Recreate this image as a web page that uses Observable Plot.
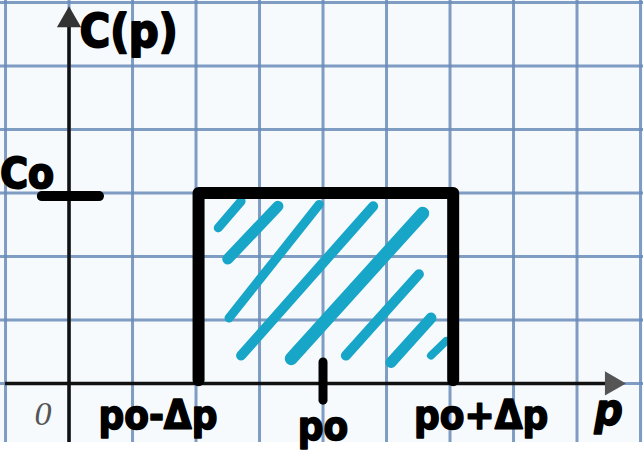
<!DOCTYPE html>
<html>
<head>
<meta charset="utf-8">
<script src="https://cdn.jsdelivr.net/npm/d3@7"></script>
<script src="https://cdn.jsdelivr.net/npm/@observablehq/plot@0.6"></script>
<style>
  body { margin: 0; background: white; }
  #chart svg { display: block; }
</style>
</head>
<body>
<div id="chart"></div>
<script>
// momentum distribution C(p): flat at C0 between p0-Δp and p0+Δp
const p0 = 4;
const dp = 2;
const c0 = 3;

// grid paper lines (one unit per square)
const gridP = [-1, 0, 1, 2, 3, 4, 5, 6, 7, 8, 9];
const gridC = [0, 1, 2, 3, 4, 5, 6];
const gridBottom = -0.93;

// the box outline
const boxP = [p0 - dp + 0.04, p0 - dp + 0.04, p0 + dp + 0.05, p0 + dp + 0.05];
const boxC = [0.05, c0, c0, 0.05];

// hand drawn hatch strokes inside the box (start / end)
const hatchP1 = [2.35, 2.5, 2.52, 2.71, 3.5, 4.36, 5.07, 5.7];
const hatchC1 = [2.45, 1.96, 1.03, 0.44, 0.39, 0.44, 0.33, 0.44];
const hatchP2 = [2.71, 3.29, 3.94, 4.79, 5.57, 5.51, 5.7, 5.94];
const hatchC2 = [2.87, 2.79, 2.82, 2.79, 2.68, 1.72, 1.03, 0.67];
const hatchW = [9, 11, 9, 10, 13, 10, 11, 8];

// labels
const tickLabels = ["po-Δp", "po", "po+Δp"];
const tickLabelP = [p0 - dp - 0.6, p0, p0 + dp + 0.49];
const tickLabelC = [-0.71, -0.89, -0.71];

const hatch = hatchP1.map((p, i) => ({
  x1: p, y1: hatchC1[i], x2: hatchP2[i], y2: hatchC2[i], w: hatchW[i]
}));
const box = boxP.map((p, i) => ({p, c: boxC[i]}));
const ticks = tickLabels.map((t, i) => ({t, p: tickLabelP[i], c: tickLabelC[i]}));

const xDomain = [-1.079, 9.047];
const yDomain = [-1.307, 6.03];
const ink = "black";
const hand = "'DejaVu Sans Condensed', 'DejaVu Sans', sans-serif";

const chart = Plot.plot({
  width: 643,
  height: 466,
  margin: 0,
  x: {domain: xDomain, axis: null},
  y: {domain: yDomain, axis: null},
  style: {background: "white"},
  marks: [
    // paper
    Plot.rect([0], {x1: xDomain[0], x2: xDomain[1], y1: gridBottom, y2: yDomain[1], fill: "#f6fafd"}),
    Plot.ruleX(gridP, {y1: gridBottom, y2: yDomain[1], stroke: "#6a8cb8", strokeWidth: 3, strokeOpacity: 0.85}),
    Plot.ruleY(gridC, {stroke: "#6a8cb8", strokeWidth: 3, strokeOpacity: 0.85}),

    // axes
    Plot.ruleX([0], {y1: gridBottom, y2: 5.75, stroke: "#111", strokeWidth: 3.5}),
    Plot.ruleY([0], {x1: -1, x2: 8.5, stroke: "#111", strokeWidth: 3.5}),
    Plot.dot([0], {x: 0, y: 5.72, symbol: "triangle", r: 9, fill: "#333", stroke: "none"}),
    Plot.dot([0], {x: 8.55, y: 0, symbol: "triangle", r: 9, fill: "#555", stroke: "none", rotate: 90}),

    // hatching
    Plot.link(hatch, {x1: "x1", y1: "y1", x2: "x2", y2: "y2", stroke: "#17a5c8", strokeWidth: "w", strokeLinecap: "round"}),

    // the box
    Plot.line(box, {x: "p", y: "c", stroke: ink, strokeWidth: 12, strokeLinecap: "round", strokeLinejoin: "round"}),
    Plot.ruleX([p0], {y1: -0.27, y2: 0.33, stroke: ink, strokeWidth: 9, strokeLinecap: "round"}),
    Plot.ruleY([c0 - 0.05], {x1: -0.42, x2: 0.48, stroke: ink, strokeWidth: 10, strokeLinecap: "round"}),

    // labels
    Plot.text(["C(p)"], {x: 0.94, y: 5.3, text: d => d, lineAnchor: "bottom", fontSize: 46, fontWeight: "bold", fontFamily: hand, fill: ink, stroke: ink, strokeWidth: 2}),
    Plot.text(["Co"], {x: -0.66, y: 3.08, text: d => d, lineAnchor: "bottom", fontSize: 42, fontWeight: "bold", fontFamily: hand, fill: ink, stroke: ink, strokeWidth: 2}),
    Plot.text(ticks, {x: "p", y: "c", text: "t", lineAnchor: "bottom", fontSize: 40, fontWeight: "bold", fontFamily: hand, fill: ink, stroke: ink, strokeWidth: 1.5}),
    Plot.text(["p"], {x: 8.5, y: -0.66, text: d => d, lineAnchor: "bottom", fontSize: 44, fontWeight: "bold", fontStyle: "italic", fontFamily: hand, fill: ink, stroke: ink, strokeWidth: 1.5}),
    Plot.text(["0"], {x: -0.41, y: -0.66, text: d => d, lineAnchor: "bottom", fontSize: 34, fontStyle: "italic", fontFamily: "'Liberation Serif', serif", fill: "#555"})
  ]
});

document.getElementById("chart").append(chart);
</script>
</body>
</html>
